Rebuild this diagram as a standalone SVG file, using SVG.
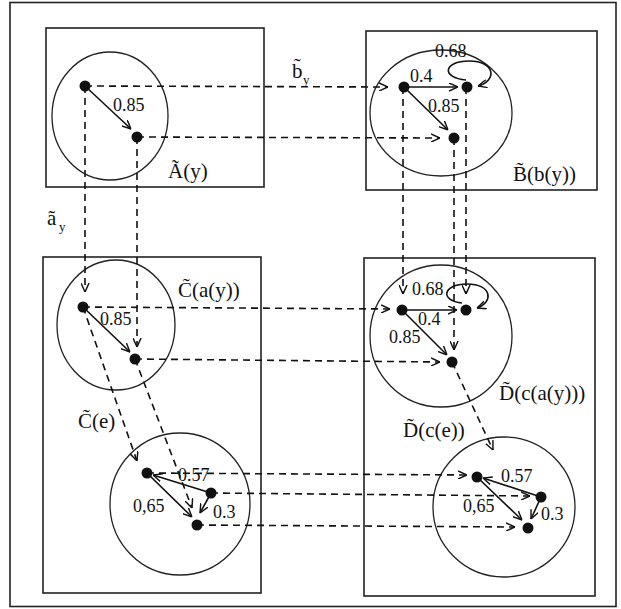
<svg xmlns="http://www.w3.org/2000/svg" width="621" height="609" viewBox="0 0 621 609">
  <style>
    .frame { fill: none; stroke: #222; stroke-width: 1.6; }
    .box { fill: none; stroke: #222; stroke-width: 1.6; }
    .ring { fill: none; stroke: #222; stroke-width: 1.3; }
    .dot { fill: #111; }
    .edge { fill: none; stroke: #111; stroke-width: 1.6; marker-end: url(#arr); }
    .map { fill: none; stroke: #111; stroke-width: 1.6; stroke-dasharray: 7 5; marker-end: url(#arr); }
    .num { font-family: "Liberation Serif", "Times New Roman", serif; font-size: 18px; fill: #111; }
    .lbl { font-family: "Liberation Serif", "Times New Roman", serif; font-size: 21px; fill: #111; }
    .sub { font-family: "Liberation Serif", "Times New Roman", serif; font-size: 13px; fill: #111; }
  </style>
  <defs>
    <marker id="arr" viewBox="0 0 10 10" refX="10" refY="5" markerWidth="9" markerHeight="9" markerUnits="userSpaceOnUse" orient="auto">
      <path d="M0,0.5 L10,5 L0,9.5" fill="none" stroke="#111" stroke-width="1.6"/>
    </marker>
  </defs>

  <rect class="frame" x="10" y="2.5" width="606" height="604"/>

  <!-- A(y) -->
  <g id="node-A">
    <rect class="box" x="46" y="28" width="218" height="159"/>
    <ellipse class="ring" cx="110" cy="116" rx="58" ry="64"/>
    <line class="edge" x1="85" y1="86" x2="131" y2="129"/>
    <circle class="dot" cx="85" cy="86" r="5.5"/>
    <circle class="dot" cx="137" cy="137" r="5.5"/>
    <text class="num" x="113" y="111">0.85</text>
    <text class="lbl" x="168" y="178">Ã(y)</text>
  </g>

  <!-- B(b(y)) -->
  <g id="node-B">
    <rect class="box" x="366" y="31" width="231" height="159"/>
    <ellipse class="ring" cx="441" cy="113" rx="71" ry="63"/>
    <line class="edge" x1="404" y1="87" x2="458" y2="87"/>
    <line class="edge" x1="404" y1="87" x2="448" y2="130"/>
    <path class="edge" d="M466,80 C441,78 443,61 469,61 C496,61 497,81 478,86"/>
    <circle class="dot" cx="404" cy="87" r="5.5"/>
    <circle class="dot" cx="467" cy="87" r="5.5"/>
    <circle class="dot" cx="454" cy="138" r="5.5"/>
    <text class="num" x="435" y="57">0.68</text>
    <text class="num" x="410" y="82">0.4</text>
    <text class="num" x="428" y="112">0.85</text>
    <text class="lbl" x="513" y="181">B̃(b(y))</text>
  </g>

  <!-- C(a(y)) and C(e) -->
  <g id="node-C">
    <rect class="box" x="43" y="257" width="218" height="336"/>
    <ellipse class="ring" cx="116" cy="325" rx="59" ry="65"/>
    <line class="edge" x1="83" y1="307" x2="130" y2="352"/>
    <circle class="dot" cx="83" cy="307" r="5.5"/>
    <circle class="dot" cx="135" cy="359" r="5.5"/>
    <text class="num" x="100" y="325">0.85</text>
    <text class="lbl" x="178" y="297">C̃(a(y))</text>
  </g>

  <g id="node-Ce">
    <ellipse class="ring" cx="180" cy="504" rx="70" ry="71"/>
    <line class="edge" x1="211" y1="493" x2="153" y2="475"/>
    <line class="edge" x1="147" y1="473" x2="192" y2="517"/>
    <line class="edge" x1="211" y1="493" x2="200" y2="513"/>
    <circle class="dot" cx="147" cy="473" r="5.5"/>
    <circle class="dot" cx="211" cy="493" r="5.5"/>
    <circle class="dot" cx="197" cy="525" r="5.5"/>
    <text class="num" x="178" y="481">0.57</text>
    <text class="num" x="133" y="512">0,65</text>
    <text class="num" x="213" y="518">0.3</text>
    <text class="lbl" x="78" y="428">C̃(e)</text>
  </g>

  <!-- D(c(a(y))) and D(c(e)) -->
  <g id="node-D">
    <rect class="box" x="364" y="258" width="231" height="338"/>
    <ellipse class="ring" cx="441" cy="336" rx="71" ry="71"/>
    <line class="edge" x1="402" y1="310" x2="457" y2="310"/>
    <line class="edge" x1="402" y1="310" x2="447" y2="355"/>
    <path class="edge" d="M462,303 C440,301 442,284 467,284 C492,284 494,302 477,308"/>
    <circle class="dot" cx="402" cy="310" r="5.5"/>
    <circle class="dot" cx="466" cy="310" r="5.5"/>
    <circle class="dot" cx="452" cy="362" r="5.5"/>
    <text class="num" x="412" y="295">0.68</text>
    <text class="num" x="418" y="325">0.4</text>
    <text class="num" x="389" y="343">0.85</text>
    <text class="lbl" x="499" y="400">D̃(c(a(y)))</text>
  </g>

  <g id="node-De">
    <ellipse class="ring" cx="504" cy="507" rx="71" ry="70"/>
    <line class="edge" x1="541" y1="497" x2="483" y2="478"/>
    <line class="edge" x1="477" y1="477" x2="522" y2="520"/>
    <line class="edge" x1="541" y1="497" x2="531" y2="519"/>
    <circle class="dot" cx="477" cy="477" r="5.5"/>
    <circle class="dot" cx="541" cy="497" r="5.5"/>
    <circle class="dot" cx="528" cy="528" r="5.5"/>
    <text class="num" x="501" y="482">0.57</text>
    <text class="num" x="463" y="512">0,65</text>
    <text class="num" x="541" y="520">0.3</text>
    <text class="lbl" x="403" y="437">D̃(c(e))</text>
  </g>

  <!-- dashed mappings -->
  <g id="connectors">
    <line class="map" x1="85" y1="86" x2="388" y2="87"/>
    <line class="map" x1="137" y1="137" x2="440" y2="138"/>
    <line class="map" x1="85" y1="86" x2="85" y2="292"/>
    <line class="map" x1="137" y1="137" x2="137" y2="347"/>
    <line class="map" x1="403" y1="87" x2="403" y2="294"/>
    <line class="map" x1="454" y1="138" x2="454" y2="350"/>
    <line class="map" x1="466" y1="87" x2="466" y2="294"/>
    <line class="map" x1="83" y1="307" x2="390" y2="309"/>
    <line class="map" x1="135" y1="359" x2="440" y2="362"/>
    <line class="map" x1="83" y1="307" x2="137" y2="461"/>
    <line class="map" x1="135" y1="359" x2="192" y2="508"/>
    <line class="map" x1="452" y1="362" x2="493" y2="450"/>
    <line class="map" x1="147" y1="473" x2="467" y2="475"/>
    <line class="map" x1="211" y1="493" x2="530" y2="496"/>
    <line class="map" x1="197" y1="525" x2="515" y2="527"/>
    <text class="lbl" x="292" y="78">b̃</text>
    <text class="sub" x="303" y="84">y</text>
    <text class="lbl" x="47" y="225">ã</text>
    <text class="sub" x="59" y="231">y</text>
  </g>
</svg>
